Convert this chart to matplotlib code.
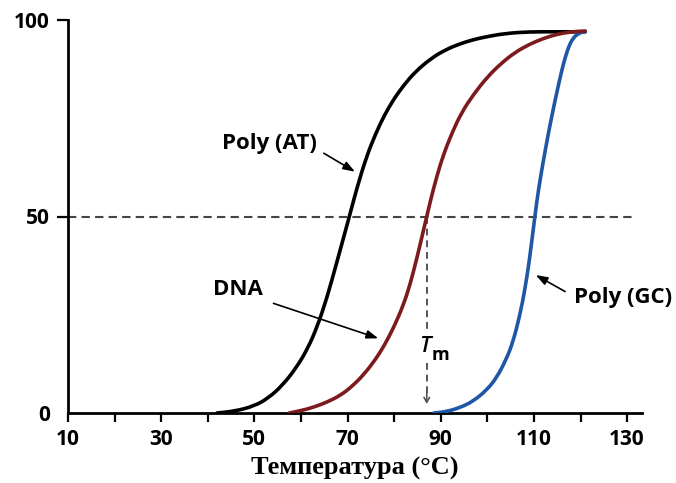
import matplotlib
matplotlib.use("Agg")
import matplotlib.pyplot as plt
from matplotlib.path import Path
from matplotlib.patches import PathPatch

# Melting curves: fraction of denatured strands (%) versus temperature (°C)
at_temp = [42, 46, 50, 53, 56, 59, 61.5, 63.5, 65.5, 67.5, 69, 70.5, 72, 74, 76, 78,
           80, 82, 84.5, 88, 91, 94, 97, 100, 104, 109, 115, 121]
at_value = [0, 0.5, 1.8, 3.8, 7, 11.5, 16.5, 22, 29, 37.5, 44, 50.5, 57.2, 65, 71, 76,
            80, 83.3, 86.8, 90.3, 92.4, 93.9, 95, 95.8, 96.6, 97, 97, 97]

dna_temp = [57.5, 60, 62.5, 65.5, 68.5, 71, 73.5, 76, 78, 80, 82, 83.5, 85, 86, 87, 88,
            89, 90.5, 92.5, 94.5, 97, 100, 103, 106, 109, 112, 115, 118, 121]
dna_value = [0, 0.6, 1.4, 2.7, 4.5, 6.8, 9.8, 13.6, 17.4, 22, 27.5, 33, 40, 45, 50, 55,
             59.5, 65.5, 71.5, 76.5, 81, 85.5, 89, 91.8, 93.8, 95.3, 96.4, 97, 97.2]

gc_temp = [88.5, 91, 94, 97, 100, 102, 104, 105.5, 107, 108, 109, 110.2,
           111, 112, 113, 114, 115, 116, 116.8, 117.5, 118.3, 119.3, 120.5, 121]
gc_value = [0, 0.3, 1.3, 3.0, 6.0, 9.0, 13.5, 18, 25, 31, 38.5, 50,
            57, 64, 70.5, 76.5, 82, 87.3, 90.8, 93.3, 95.2, 96.4, 97, 97]

tm_dna = 87
half_level = 50

x_major = [10, 30, 50, 70, 90, 110, 130]
x_minor = [20, 40, 60, 80, 100, 120]
y_ticks = [0, 50, 100]
x_label = "Температура (°C)"

sans = "Open Sans"


def smooth_curve(ax, xs, ys, **kw):
    """Draw a polyline as a quadratic B-spline path in data coordinates."""
    pts = list(zip(xs, ys))
    verts = [pts[0]]
    codes = [Path.MOVETO]
    mid = ((pts[0][0] + pts[1][0]) / 2, (pts[0][1] + pts[1][1]) / 2)
    verts.append(mid)
    codes.append(Path.LINETO)
    for i in range(1, len(pts) - 1):
        nxt = ((pts[i][0] + pts[i + 1][0]) / 2, (pts[i][1] + pts[i + 1][1]) / 2)
        verts += [pts[i], nxt]
        codes += [Path.CURVE3, Path.CURVE3]
    verts.append(pts[-1])
    codes.append(Path.LINETO)
    patch = PathPatch(Path(verts, codes), facecolor="none", transform=ax.transData,
                      capstyle="round", joinstyle="round", **kw)
    ax.add_patch(patch)
    return patch


fig = plt.figure(figsize=(6.76, 4.83), dpi=100)
ax = fig.add_axes([68 / 676, 70 / 483, (642 - 68) / 676, (413 - 20) / 483])
ax.set_xlim(10, 133.2)
ax.set_ylim(0, 100)

for side in ("top", "right"):
    ax.spines[side].set_visible(False)
for side in ("left", "bottom"):
    ax.spines[side].set_linewidth(2.0)
    ax.spines[side].set_color("black")

ax.set_xticks(x_major)
ax.set_xticks(x_minor, minor=True)
ax.set_yticks(y_ticks)
ax.tick_params(axis="x", which="both", direction="out", length=6.5, width=1.6,
               pad=5, labelsize=15)
ax.tick_params(axis="y", direction="out", length=8, width=1.6, pad=5, labelsize=15)
ax.yaxis.get_major_ticks()[0].tick1line.set_visible(False)
for lab in ax.get_xticklabels() + ax.get_yticklabels():
    lab.set_fontfamily(sans)
    lab.set_fontweight("bold")

# 50 % reference level
ax.plot([10, 131.2], [half_level, half_level], color="#444444", lw=1.5,
        dashes=(4, 2.5), clip_on=False, zorder=1)

# melting curves
smooth_curve(ax, at_temp, at_value, edgecolor="black", lw=2.6, zorder=3)
smooth_curve(ax, gc_temp, gc_value, edgecolor="#1f56a5", lw=2.6, zorder=3)
smooth_curve(ax, dna_temp, dna_value, edgecolor="#7d1a1d", lw=2.6, zorder=4)

# Tm drop line
ax.plot([tm_dna, tm_dna], [half_level, 20.5], color="#555555", lw=1.4,
        dashes=(3.5, 2.5), zorder=2)
ax.plot([tm_dna, tm_dna], [12.8, 4.5], color="#555555", lw=1.4,
        dashes=(3.5, 2.5), zorder=2)
ax.annotate("", xy=(tm_dna, 2.3), xytext=(tm_dna, 5.0),
            arrowprops=dict(arrowstyle="->,head_length=0.35,head_width=0.2",
                            color="#555555", lw=1.2, shrinkA=0, shrinkB=0))
ax.text(tm_dna - 0.5, 16.8, "T", fontfamily=sans, fontstyle="italic",
        fontweight="semibold", fontsize=16, ha="center", va="center")
ax.text(tm_dna + 2.9, 14.8, "m", fontfamily=sans, fontweight="bold",
        fontsize=13, ha="center", va="center")

# curve labels
arrow_kw = dict(arrowstyle="-|>,head_length=0.7,head_width=0.25", color="black",
                lw=1.2, shrinkA=0, shrinkB=0)
ax.text(53.3, 68.7, "Poly (AT)", fontfamily=sans, fontweight="bold", fontsize=16,
        ha="center", va="center")
ax.annotate("", xy=(71.6, 61.4), xytext=(64.9, 66.1), arrowprops=arrow_kw)

ax.text(46.5, 31.3, "DNA", fontfamily=sans, fontweight="bold", fontsize=16,
        ha="center", va="center")
ax.annotate("", xy=(76.6, 19.0), xytext=(54.1, 27.9), arrowprops=arrow_kw)

ax.text(129.1, 29.3, "Poly (GC)", fontfamily=sans, fontweight="bold", fontsize=16,
        ha="center", va="center", clip_on=False)
ax.annotate("", xy=(110.4, 35.1), xytext=(116.7, 30.9), arrowprops=arrow_kw)

ax.set_xlabel(x_label, fontfamily="Liberation Serif", fontweight="bold",
              fontsize=19, va="center")
ax.xaxis.set_label_coords(0.5, -(468 - 413) / 393)

fig.savefig("out.png", dpi=100)
